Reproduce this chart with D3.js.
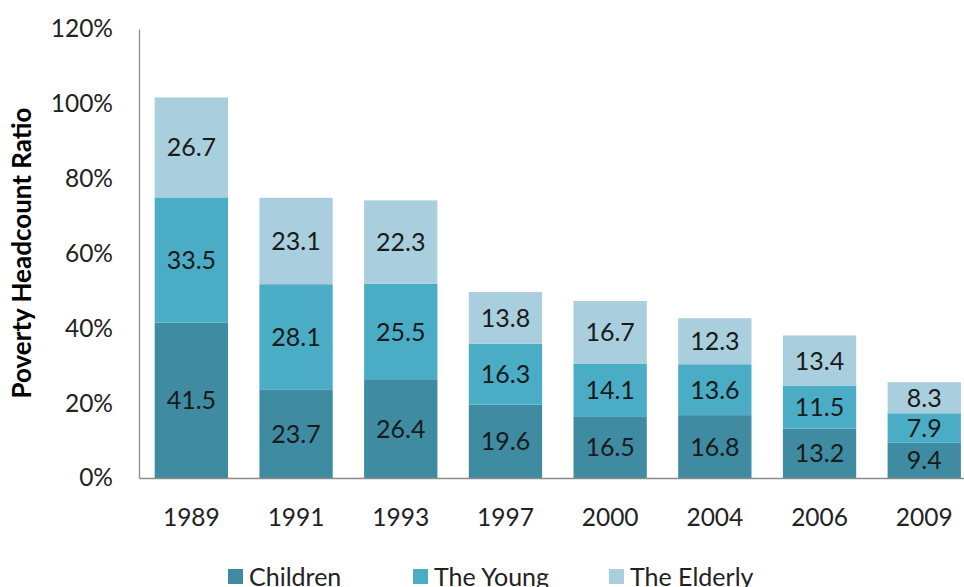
<!DOCTYPE html>
<html><head><meta charset="utf-8">
<script src="https://cdn.jsdelivr.net/npm/d3@7"></script>
<style>body{margin:0;background:#fff}svg{display:block}text{font-family:Lato,"Open Sans",sans-serif}</style>
</head><body>
<svg id="c" width="964" height="587"></svg>
<script>
const years = ["1989","1991","1993","1997","2000","2004","2006","2009"];
const children = [41.5,23.7,26.4,19.6,16.5,16.8,13.2,9.4];
const young = [33.5,28.1,25.5,16.3,14.1,13.6,11.5,7.9];
const elderly = [26.7,23.1,22.3,13.8,16.7,12.3,13.4,8.3];
const seriesNames = ["Children","The Young","The Elderly"];
const colors = ["#3e8ba2","#4bacc6","#a9cfde"];
const yTicks = [0,20,40,60,80,100,120];

const svg = d3.select("#c");
const x0 = 139, x1 = 976.6, yBot = 478, yTop = 29;
const x = d3.scaleBand().domain(years).range([x0,x1]).paddingInner(0.3).paddingOuter(0.15);
const y = d3.scaleLinear().domain([0,120]).range([yBot,yTop]);

const table = years.map((yr,i)=>({year:yr,"Children":children[i],"The Young":young[i],"The Elderly":elderly[i]}));
const stack = d3.stack().keys(seriesNames)(table);

const g = svg.append("g");
stack.forEach((s,si)=>{
  g.selectAll(null).data(s).enter().append("rect")
    .attr("x",d=>x(d.data.year)).attr("width",x.bandwidth())
    .attr("y",d=>y(d[1])).attr("height",d=>y(d[0])-y(d[1]))
    .attr("fill",colors[si]);
  g.selectAll(null).data(s).enter().append("text")
    .attr("x",d=>x(d.data.year)+x.bandwidth()/2)
    .attr("y",d=>(y(d[0])+y(d[1]))/2)
    .attr("dy","0.36em").attr("text-anchor","middle")
    .attr("font-size",25).attr("fill","#1a1a1a")
    .text(d=>(d[1]-d[0]).toFixed(1));
});

// y axis
const ya = svg.append("g").attr("transform",`translate(${x0},0)`)
  .call(d3.axisLeft(y).tickValues(yTicks).tickSize(0).tickPadding(26).tickFormat(d=>d+"%"));
ya.select(".domain").attr("stroke","#8c8c8c").attr("stroke-width",1.3);
ya.selectAll("text").attr("font-size",24.5).attr("fill","#222").attr("font-family","Lato,'Open Sans',sans-serif");

// x axis
const xa = svg.append("g").attr("transform",`translate(0,${yBot})`)
  .call(d3.axisBottom(x).tickSize(0).tickPadding(31));
xa.select(".domain").attr("stroke","#8c8c8c").attr("stroke-width",1.3);
xa.selectAll("text").attr("font-size",24.5).attr("fill","#222").attr("font-family","Lato,'Open Sans',sans-serif");

svg.append("text").attr("transform","translate(31,253) rotate(-90)")
  .attr("text-anchor","middle").attr("font-size",26).attr("font-weight","bold").attr("fill","#000")
  .text("Poverty Headcount Ratio");

// legend
const legX = [228,413,609];
seriesNames.forEach((n,i)=>{
  svg.append("rect").attr("x",legX[i]).attr("y",569).attr("width",15).attr("height",15).attr("fill",colors[i]);
  svg.append("text").attr("x",legX[i]+21).attr("y",586).attr("font-size",25).attr("fill","#222").text(n);
});
</script>
</body></html>
